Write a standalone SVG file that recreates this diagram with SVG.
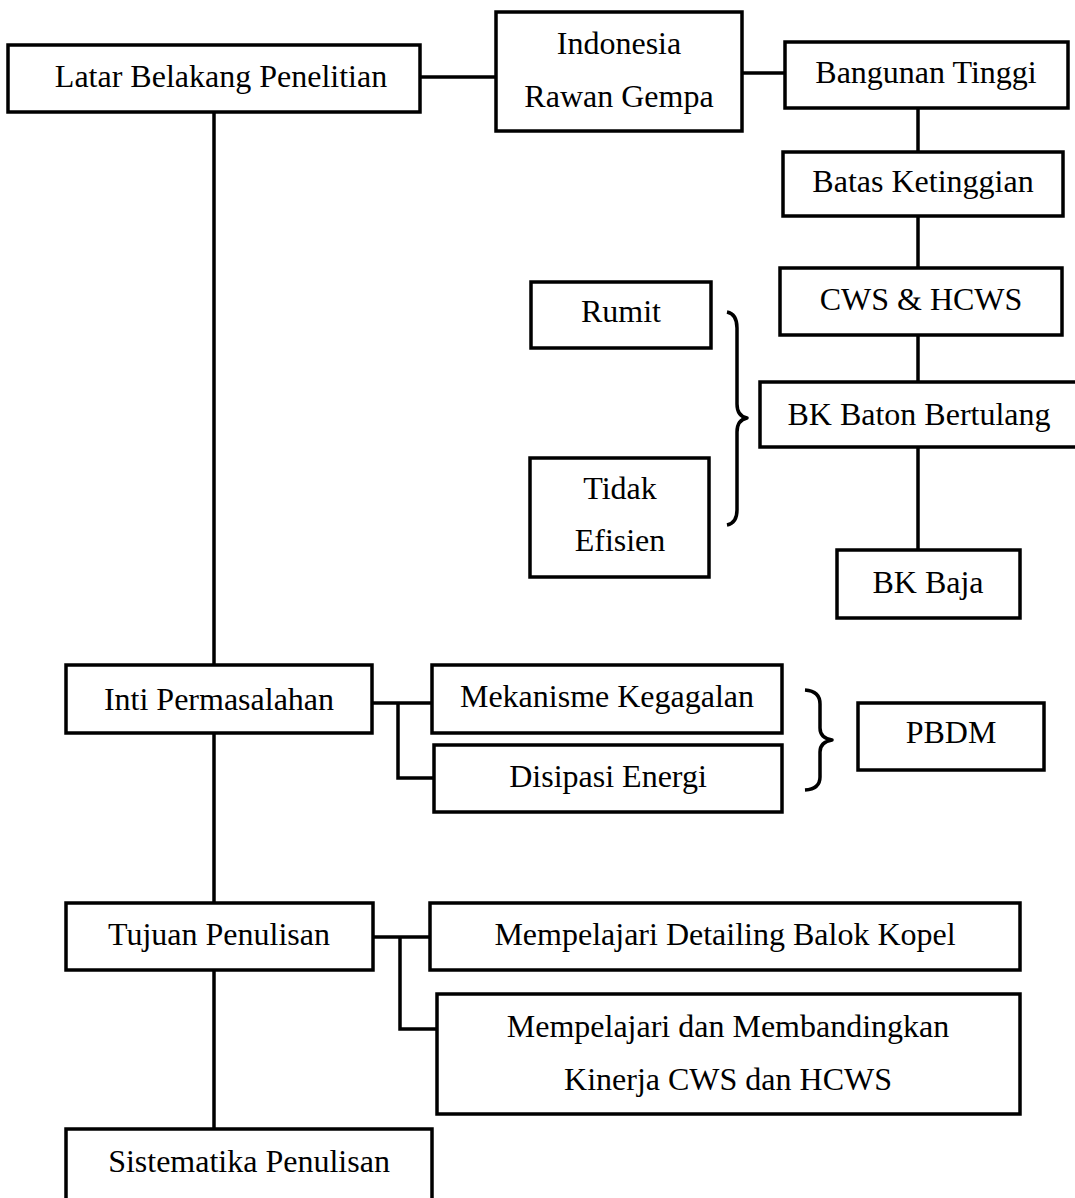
<svg xmlns="http://www.w3.org/2000/svg" width="1075" height="1198" viewBox="0 0 1075 1198">
  <style>
    .box { fill: #fff; stroke: #000; stroke-width: 3.5; }
    .ln { fill: none; stroke: #000; stroke-width: 3.5; }
    .br { fill: none; stroke: #000; stroke-width: 3.5; stroke-linejoin: round; }
    text { font-family: "Liberation Serif", "Times New Roman", serif; font-size: 32px; fill: #000; text-anchor: middle; dominant-baseline: central; }
  </style>
  <rect width="1075" height="1198" fill="#fff"/>

  <!-- connectors -->
  <g id="connectors">
    <line class="ln" x1="214" y1="112" x2="214" y2="1129"/>
    <line class="ln" x1="420" y1="77" x2="496" y2="77"/>
    <line class="ln" x1="742" y1="73" x2="785" y2="73"/>
    <line class="ln" x1="918" y1="108" x2="918" y2="152"/>
    <line class="ln" x1="918" y1="216" x2="918" y2="268"/>
    <line class="ln" x1="918" y1="335" x2="918" y2="382"/>
    <line class="ln" x1="918" y1="447" x2="918" y2="550"/>
    <polyline class="ln" points="372,703 432,703"/>
    <polyline class="ln" points="398,703 398,778 434,778"/>
    <polyline class="ln" points="373,937 430,937"/>
    <polyline class="ln" points="400,937 400,1029 437,1029"/>
    <!-- braces -->
    <path class="br" d="M727,312 Q737,314 737,328 L737,404 Q737,416 747,418 Q737,420 737,432 L737,510 Q737,523 727,525"/>
    <path class="br" d="M805,690 Q820,691 820,704 L820,728 Q820,738 832,740 Q820,742 820,752 L820,777 Q820,789 805,790"/>
  </g>

  <g id="latar"><rect class="box" x="8" y="45" width="412" height="67"/><text x="221" y="76">Latar Belakang Penelitian</text></g>
  <g id="indonesia"><rect class="box" x="496" y="12" width="246" height="119"/><text x="619" y="43">Indonesia</text><text x="619" y="96">Rawan Gempa</text></g>
  <g id="bangunan"><rect class="box" x="785" y="42" width="283" height="66"/><text x="926" y="72">Bangunan Tinggi</text></g>
  <g id="batas"><rect class="box" x="783" y="152" width="280" height="64"/><text x="923" y="181">Batas Ketinggian</text></g>
  <g id="cws"><rect class="box" x="780" y="268" width="282" height="67"/><text x="921" y="299">CWS &amp; HCWS</text></g>
  <g id="bkbeton"><rect class="box" x="760" y="382" width="318" height="65"/><text x="919" y="414">BK Baton Bertulang</text></g>
  <g id="bkbaja"><rect class="box" x="837" y="550" width="183" height="68"/><text x="928" y="582">BK Baja</text></g>
  <g id="rumit"><rect class="box" x="531" y="282" width="180" height="66"/><text x="621" y="311">Rumit</text></g>
  <g id="tidak"><rect class="box" x="530" y="458" width="179" height="119"/><text x="620" y="488">Tidak</text><text x="620" y="540">Efisien</text></g>
  <g id="inti"><rect class="box" x="66" y="665" width="306" height="68"/><text x="219" y="699">Inti Permasalahan</text></g>
  <g id="mekanisme"><rect class="box" x="432" y="665" width="350" height="68"/><text x="607" y="696">Mekanisme Kegagalan</text></g>
  <g id="disipasi"><rect class="box" x="434" y="745" width="348" height="67"/><text x="608" y="776">Disipasi Energi</text></g>
  <g id="pbdm"><rect class="box" x="858" y="703" width="186" height="67"/><text x="951" y="732">PBDM</text></g>
  <g id="tujuan"><rect class="box" x="66" y="903" width="307" height="67"/><text x="219" y="934">Tujuan Penulisan</text></g>
  <g id="detailing"><rect class="box" x="430" y="903" width="590" height="67"/><text x="725" y="934">Mempelajari Detailing Balok Kopel</text></g>
  <g id="membandingkan"><rect class="box" x="437" y="994" width="583" height="120"/><text x="728" y="1026">Mempelajari dan Membandingkan</text><text x="728" y="1079">Kinerja CWS dan HCWS</text></g>
  <g id="sistematika"><rect class="box" x="66" y="1129" width="366" height="80"/><text x="249" y="1161">Sistematika Penulisan</text></g>
</svg>
